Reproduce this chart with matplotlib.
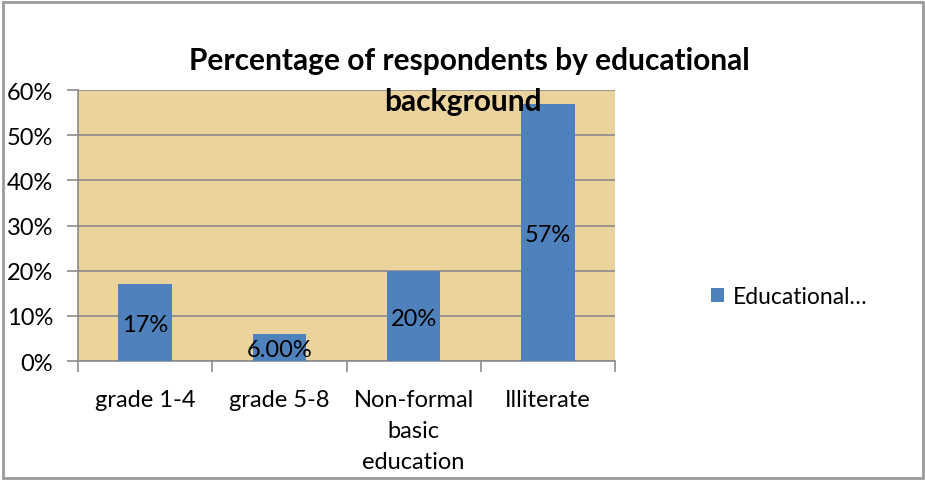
import matplotlib.pyplot as plt
from matplotlib.patches import Rectangle

categories = ['grade 1-4', 'grade 5-8', 'Non-formal\nbasic\neducation', 'Illiterate']
shares = [0.17, 0.06, 0.20, 0.57]
value_labels = ['17%', '6.00%', '20%', '57%']
yticks = [0, 0.1, 0.2, 0.3, 0.4, 0.5, 0.6]
ytick_labels = ['0%', '10%', '20%', '30%', '40%', '50%', '60%']
series_name = 'Educational…'

plt.rcParams['font.family'] = ['Lato', 'DejaVu Sans']

fig = plt.figure(figsize=(9.25, 4.81), dpi=100)
fig.patch.set_facecolor('white')

# grey frame around the whole chart
fig.add_artist(Rectangle((0.003, 0.004), 0.995, 0.99, transform=fig.transFigure,
                         fill=False, edgecolor='#9a9a9a', linewidth=2))

ax = fig.add_axes([0.0843, 0.2474, 0.5806, 0.5634])
ax.set_facecolor('#EAD39C')

x = range(len(categories))
ax.bar(x, shares, width=0.4, color='#4F81BD', zorder=3)
for xi, v, lab in zip(x, shares, value_labels):
    ax.text(xi, v / 2 - 0.005, lab, ha='center', va='center', fontsize=17,
            color='black', zorder=4)

ax.set_xlim(-0.5, len(categories) - 0.5)
ax.set_ylim(0, 0.6)
ax.set_yticks(yticks)
ax.set_yticklabels(ytick_labels, fontsize=17)
ax.yaxis.grid(True, color='#8c8c8c', linewidth=1.2, zorder=1)
ax.set_axisbelow(True)

# category ticks sit on the boundaries between bars
ax.set_xticks([i - 0.5 for i in range(len(categories) + 1)])
ax.set_xticklabels([])
ax.set_xticks(list(x), minor=True)
ax.set_xticklabels(categories, minor=True, fontsize=17, linespacing=1.6, va='top')
ax.tick_params(axis='x', which='minor', length=0, pad=20)
ax.tick_params(axis='x', which='major', length=8, color='#8c8c8c', width=1.2)
ax.tick_params(axis='y', length=8, color='#8c8c8c', width=1.2, pad=10)

for side in ['top', 'right']:
    ax.spines[side].set_visible(False)
for side in ['left', 'bottom']:
    ax.spines[side].set_color('#8c8c8c')
    ax.spines[side].set_linewidth(1.2)

fig.text(0.507, 0.873, 'Percentage of respondents by educational', ha='center',
         va='center', fontsize=21.5, fontweight='bold', zorder=10)
fig.text(0.501, 0.787, 'background', ha='center', va='center', fontsize=21.5,
         fontweight='bold', zorder=10)

handle = Rectangle((0, 0), 1, 1, facecolor='#4F81BD')
fig.legend([handle], [series_name], loc='center left', bbox_to_anchor=(0.746, 0.381),
           frameon=False, fontsize=16.5, handlelength=0.6, handleheight=0.6,
           handletextpad=0.35)

fig.savefig('out.png', dpi=100)
